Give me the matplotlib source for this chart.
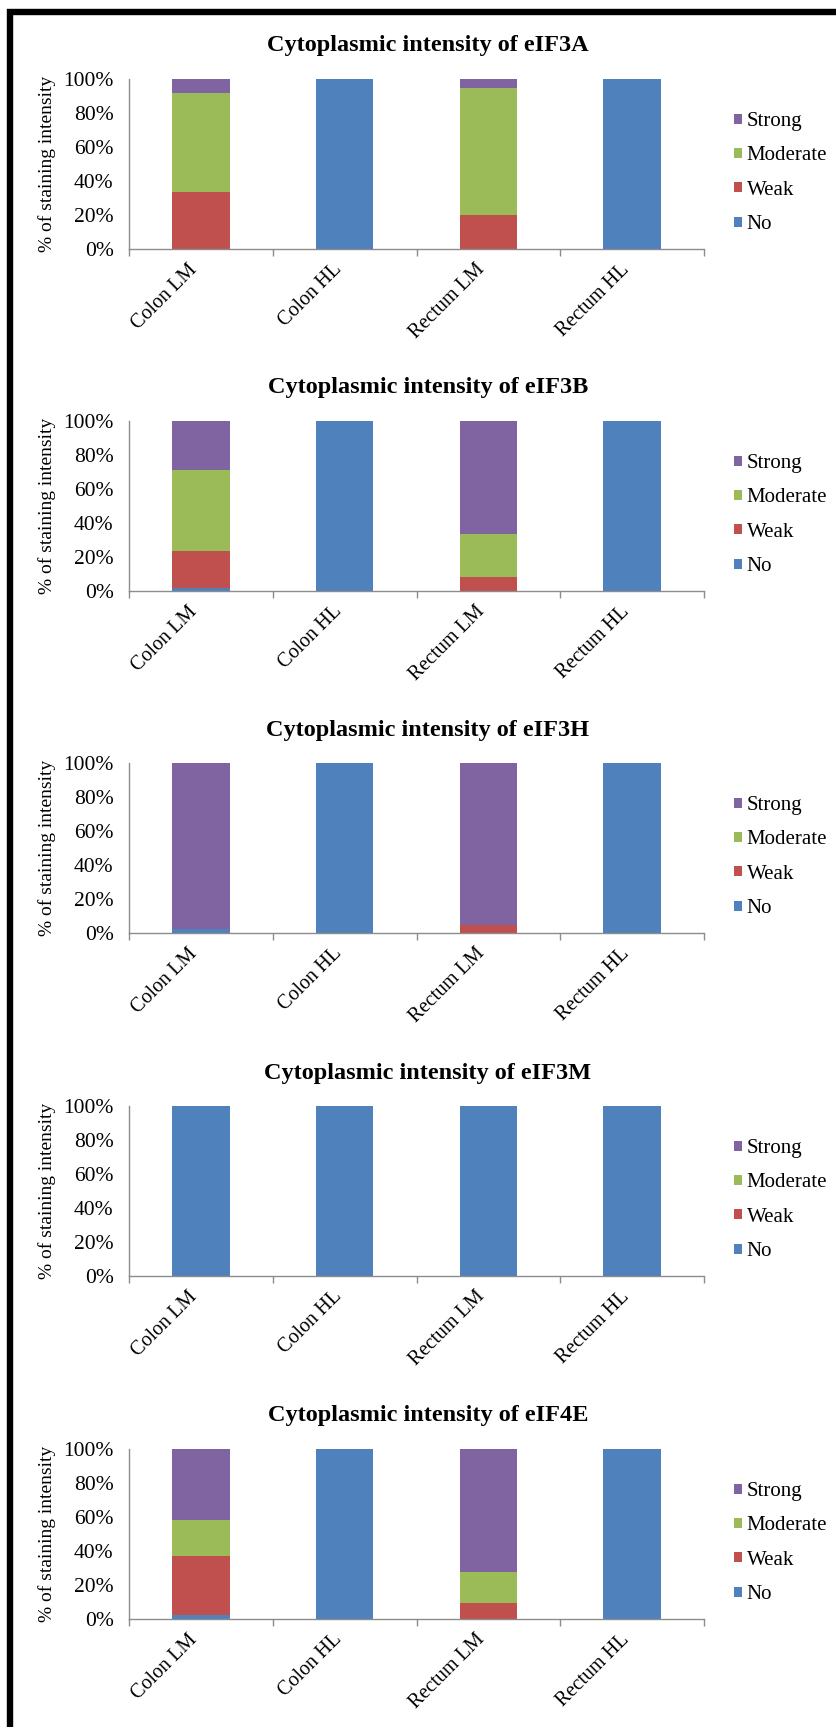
import matplotlib
matplotlib.use("Agg")
import matplotlib.pyplot as plt
from matplotlib.lines import Line2D
from matplotlib.ticker import FuncFormatter, FixedLocator
from matplotlib.transforms import ScaledTranslation
import numpy as np

plt.rcParams['font.family'] = ['Liberation Serif', 'DejaVu Serif']

# ---- data -------------------------------------------------------------
categories = ["Colon LM", "Colon HL", "Rectum LM", "Rectum HL"]
intensity_levels = ["No", "Weak", "Moderate", "Strong"]
markers = ["eIF3A", "eIF3B", "eIF3H", "eIF3M", "eIF4E"]

# percent of cases per staining intensity, one list per level
eif3a_no       = [0.0, 100.0, 0.0, 100.0]
eif3a_weak     = [33.3, 0.0, 20.0, 0.0]
eif3a_moderate = [58.4, 0.0, 75.0, 0.0]
eif3a_strong   = [8.3, 0.0, 5.0, 0.0]

eif3b_no       = [2.0, 100.0, 0.0, 100.0]
eif3b_weak     = [21.5, 0.0, 8.3, 0.0]
eif3b_moderate = [47.5, 0.0, 25.0, 0.0]
eif3b_strong   = [29.0, 0.0, 66.7, 0.0]

eif3h_no       = [2.2, 100.0, 0.0, 100.0]
eif3h_weak     = [0.0, 0.0, 4.7, 0.0]
eif3h_moderate = [0.0, 0.0, 0.0, 0.0]
eif3h_strong   = [97.8, 0.0, 95.3, 0.0]

eif3m_no       = [100.0, 100.0, 100.0, 100.0]
eif3m_weak     = [0.0, 0.0, 0.0, 0.0]
eif3m_moderate = [0.0, 0.0, 0.0, 0.0]
eif3m_strong   = [0.0, 0.0, 0.0, 0.0]

eif4e_no       = [2.2, 100.0, 0.0, 100.0]
eif4e_weak     = [34.7, 0.0, 9.4, 0.0]
eif4e_moderate = [21.3, 0.0, 18.1, 0.0]
eif4e_strong   = [41.8, 0.0, 72.5, 0.0]

panel_series = [
    (eif3a_no, eif3a_weak, eif3a_moderate, eif3a_strong),
    (eif3b_no, eif3b_weak, eif3b_moderate, eif3b_strong),
    (eif3h_no, eif3h_weak, eif3h_moderate, eif3h_strong),
    (eif3m_no, eif3m_weak, eif3m_moderate, eif3m_strong),
    (eif4e_no, eif4e_weak, eif4e_moderate, eif4e_strong),
]

y_ticks = [0, 20, 40, 60, 80, 100]

# ---- styling ----------------------------------------------------------
level_colors = ["#4F81BD", "#C0504D", "#9BBB59", "#8064A2"]
axis_gray = "#8C8C8C"

W, H = 836, 1727
fig = plt.figure(figsize=(W / 100, H / 100), dpi=100)


def fx(x):
    return x / W


def fy(y):
    return 1 - y / H


ax_left, ax_right = 129, 704
ax_h = 170
panel_tops = [79, 421, 763, 1106, 1449]
label_shift = ScaledTranslation(-6 / 100, 0, fig.dpi_scale_trans)

for marker, series, top in zip(markers, panel_series, panel_tops):
    ax = fig.add_axes([fx(ax_left), fy(top + ax_h), (ax_right - ax_left) / W, ax_h / H])
    x = np.arange(len(categories))
    bottom = np.zeros(len(categories))
    handles = []
    for vals, name, col in zip(series, intensity_levels, level_colors):
        vals = np.asarray(vals)
        h = ax.bar(x, vals, width=0.4, bottom=bottom, color=col, label=name,
                   linewidth=0)
        handles.append(h)
        bottom += vals

    ax.set_xlim(-0.5, len(categories) - 0.5)
    ax.set_ylim(0, 100)
    ax.yaxis.set_major_locator(FixedLocator(y_ticks))
    ax.yaxis.set_major_formatter(FuncFormatter(lambda v, p: f"{v:.0f}%"))
    ax.tick_params(axis='y', length=0, pad=11, labelsize=15.5, colors='black')

    ax.set_xticks(x)
    ax.set_xticklabels(categories, rotation=45, ha='right', va='center',
                       rotation_mode='anchor', fontsize=14.5)
    ax.tick_params(axis='x', which='major', length=0, pad=13)
    for lab in ax.get_xticklabels():
        lab.set_transform(lab.get_transform() + label_shift)
    ax.set_xticks(np.arange(-0.5, len(categories), 1.0), minor=True)
    ax.tick_params(axis='x', which='minor', length=5, width=1, color=axis_gray,
                   direction='out')

    for s in ('top', 'right'):
        ax.spines[s].set_visible(False)
    for s in ('left', 'bottom'):
        ax.spines[s].set_color(axis_gray)
        ax.spines[s].set_linewidth(1.0)

    fig.text(fx(428), fy(top - 33), f"Cytoplasmic intensity of {marker}",
             ha='center', va='center', fontsize=17.5, fontweight='bold')
    fig.text(fx(47), fy(top + ax_h / 2), "% of staining intensity",
             rotation=90, ha='center', va='center', fontsize=14)

    ax.legend(handles[::-1], intensity_levels[::-1], loc='upper left',
              bbox_to_anchor=(fx(734), fy(top + 33)), bbox_transform=fig.transFigure,
              frameon=False, fontsize=15, handlelength=0.36, handleheight=0.36,
              handletextpad=0.25, labelspacing=0.74, borderpad=0, borderaxespad=0)

# outer frame: top and left edges
fig.add_artist(Line2D([fx(7), fx(836)], [fy(11.5), fy(11.5)], color='black',
                      linewidth=4.6, solid_capstyle='butt', transform=fig.transFigure))
fig.add_artist(Line2D([fx(10), fx(10)], [fy(8.5), fy(1727)], color='black',
                      linewidth=4.6, solid_capstyle='butt', transform=fig.transFigure))

fig.savefig("out.png", dpi=100)
